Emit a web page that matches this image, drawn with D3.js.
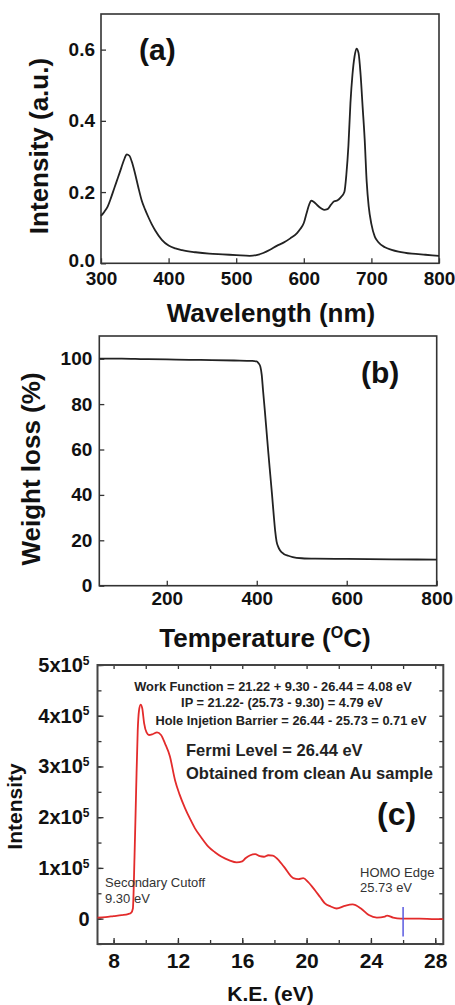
<!DOCTYPE html>
<html>
<head>
<meta charset="utf-8">
<script src="https://cdn.jsdelivr.net/npm/d3@7"></script>
<style>
  body { margin: 0; background: #fff; }
  svg { display: block; font-family: "Liberation Sans", Arial, sans-serif; }
</style>
</head>
<body>
<svg id="chart" width="455" height="1005"></svg>
<script>
// (a) absorption spectrum
const wavelength = [300, 305, 310, 315, 320, 325, 330, 335, 338, 342, 346, 350, 355, 360, 365, 370, 375, 380, 390, 400,
  410, 420, 440, 460, 480, 500, 520, 530, 540, 550, 560, 570, 580, 590, 595, 600, 604, 608, 611, 615, 620, 625, 630,
  635, 640, 645, 650, 655, 660, 663, 666, 669, 672, 675, 678, 681, 684, 687, 690, 693, 696, 700, 705, 710, 720, 730,
  740, 760, 780, 800]
const absorbance = [0.133, 0.145, 0.16, 0.185, 0.213, 0.24, 0.268, 0.295, 0.306, 0.302, 0.283, 0.255, 0.215, 0.178,
  0.152, 0.13, 0.11, 0.093, 0.066, 0.05, 0.042, 0.037, 0.031, 0.027, 0.025, 0.023, 0.021, 0.023, 0.029, 0.038, 0.049,
  0.058, 0.07, 0.085, 0.097, 0.113, 0.14, 0.165, 0.176, 0.172, 0.163, 0.155, 0.15, 0.152, 0.164, 0.174, 0.177, 0.186,
  0.2, 0.25, 0.33, 0.45, 0.53, 0.58, 0.603, 0.59, 0.53, 0.44, 0.35, 0.23, 0.16, 0.11, 0.075, 0.06, 0.045, 0.038,
  0.033, 0.027, 0.024, 0.021]
const aTicksX = [300, 400, 500, 600, 700, 800]
const aTicksY = [0, 0.2, 0.4, 0.6]

// (b) TGA
const temperature = [50, 100, 150, 200, 250, 300, 350, 390, 400, 404, 408, 411, 414, 418, 422, 426, 430, 434, 438, 441,
  444, 448, 452, 460, 470, 480, 500, 530, 600, 700, 800]
const weightLoss = [100, 100, 99.8, 99.7, 99.5, 99.4, 99.2, 99, 98.8, 98, 96.5, 93, 86, 77, 67.5, 58, 49, 40, 30.5,
  24, 19.5, 17, 15.5, 14, 13.2, 12.6, 12.1, 11.9, 11.8, 11.6, 11.5]
const bTicksX = [200, 400, 600, 800]
const bTicksY = [0, 20, 40, 60, 80, 100]

// (c) UPS spectrum, intensity in units of 1e5
const kineticEnergy = [7, 7.5, 8, 8.5, 8.9, 9.1, 9.2, 9.3, 9.4, 9.5, 9.58, 9.68, 9.78, 9.9, 10.05, 10.2, 10.45, 10.7,
  10.95, 11.2, 11.5, 11.82, 12.1, 12.44, 12.75, 13.06, 13.45, 13.89, 14.3, 14.72, 15.2, 15.65, 16.0, 16.2, 16.5, 16.8,
  17.1, 17.35, 17.62, 17.9, 18.14, 18.6, 19.17, 19.5, 19.79, 20.1, 20.52, 20.85, 21.14, 21.5, 21.87, 22.36, 22.86,
  23.38, 23.87, 24.37, 24.87, 25.0, 25.38, 25.86, 27, 28, 28.5]
const upsIntensity = [0.02, 0.03, 0.05, 0.07, 0.09, 0.12, 0.2, 1.2, 2.5, 3.7, 4.1, 4.22, 4.15, 3.85, 3.67, 3.62, 3.64,
  3.67, 3.62, 3.45, 3.2, 2.73, 2.45, 2.18, 1.97, 1.78, 1.6, 1.42, 1.31, 1.22, 1.15, 1.11, 1.13, 1.19, 1.25, 1.27,
  1.23, 1.22, 1.25, 1.24, 1.19, 1.02, 0.8, 0.78, 0.8, 0.72, 0.56, 0.42, 0.3, 0.24, 0.2, 0.25, 0.28, 0.2, 0.07, 0.02,
  0.04, 0.06, 0.02, 0, 0, -0.01, -0.01]
const homoMarker = { x: 26.0, y0: -0.35, y1: 0.23 }
const cTicksX = [8, 12, 16, 20, 24, 28]
const cMinorX = [8, 10, 12, 14, 16, 18, 20, 22, 24, 26, 28]
const cTicksY = [0, 1, 2, 3, 4, 5]
const cMinorY = [-0.5, 0.5, 1.5, 2.5, 3.5, 4.5]

const infoLines = [
  "Work Function = 21.22 + 9.30 - 26.44 = 4.08 eV",
  "IP = 21.22- (25.73 - 9.30) = 4.79 eV",
  "Hole Injetion Barrier = 26.44 - 25.73 =  0.71 eV"
]
const fermiLines = ["Fermi Level = 26.44 eV", "Obtained from clean Au sample"]

const svg = d3.select("#chart")

const styleTicks = (g, size) => {
  g.select(".domain").remove()
  g.selectAll("line").attr("stroke", "#333").attr("stroke-width", 1.3)
  g.selectAll("text")
    .attr("font-family", "Liberation Sans, Arial, sans-serif")
    .attr("font-weight", "bold")
    .attr("font-size", size)
    .attr("fill", "#111")
}

const frame = (x, y, stroke, width) => {
  svg.append("rect")
    .attr("x", x.range()[0]).attr("y", y.range()[1])
    .attr("width", x.range()[1] - x.range()[0])
    .attr("height", y.range()[0] - y.range()[1])
    .attr("fill", "none").attr("stroke", stroke).attr("stroke-width", width)
}

const bold = (x, y, txt, size, anchor = "start") =>
  svg.append("text")
    .attr("x", x).attr("y", y)
    .attr("text-anchor", anchor)
    .attr("font-weight", "bold")
    .attr("font-size", size)
    .attr("fill", "#111")
    .text(txt)

const yTitle = (x, y, txt, size) =>
  bold(0, 0, txt, size, "middle").attr("transform", `translate(${x},${y}) rotate(-90)`)

// ---------- panel (a)
const xa = d3.scaleLinear().domain([300, 800]).range([101, 439])
const ya = d3.scaleLinear().domain([0, 0.7]).range([263.3, 14])

svg.append("g").attr("transform", `translate(0,${ya(0)})`)
  .call(d3.axisBottom(xa).tickValues(aTicksX).tickSize(-5).tickPadding(8))
  .call(g => styleTicks(g, 19))
svg.append("g").attr("transform", `translate(${xa(300)},0)`)
  .call(d3.axisLeft(ya).tickValues(aTicksY).tickFormat(d3.format(".1f")).tickSize(-5).tickPadding(6))
  .call(g => styleTicks(g, 19))
  .call(g => g.selectAll(".tick text").filter(d => d === 0).attr("y", -3))
frame(xa, ya, "#333", 1.6)

svg.append("path")
  .datum(wavelength.map((w, i) => [w, absorbance[i]]))
  .attr("d", d3.line().x(d => xa(d[0])).y(d => ya(d[1])).curve(d3.curveMonotoneX))
  .attr("fill", "none").attr("stroke", "#222").attr("stroke-width", 1.8)

bold(139, 60, "(a)", 30)
bold(271, 322, "Wavelength (nm)", 26, "middle")
yTitle(48, 146, "Intensity (a.u.)", 26)

// ---------- panel (b)
const xb = d3.scaleLinear().domain([50, 800]).range([99.3, 436.7])
const yb = d3.scaleLinear().domain([0, 110]).range([585.7, 336])

svg.append("g").attr("transform", `translate(0,${yb(0)})`)
  .call(d3.axisBottom(xb).tickValues(bTicksX).tickSize(-5).tickPadding(6))
  .call(g => styleTicks(g, 19))
svg.append("g").attr("transform", `translate(${xb(50)},0)`)
  .call(d3.axisLeft(yb).tickValues(bTicksY).tickSize(-5).tickPadding(7))
  .call(g => styleTicks(g, 19))
frame(xb, yb, "#333", 1.6)

svg.append("path")
  .datum(temperature.map((t, i) => [t, weightLoss[i]]))
  .attr("d", d3.line().x(d => xb(d[0])).y(d => yb(d[1])).curve(d3.curveMonotoneX))
  .attr("fill", "none").attr("stroke", "#222").attr("stroke-width", 1.8)

bold(361, 383, "(b)", 30)
const tTitle = bold(265, 647, "Temperature (", 26, "middle")
tTitle.append("tspan").attr("font-size", 16).attr("dy", -9).text("O")
tTitle.append("tspan").attr("dy", 9).text("C)")
yTitle(40, 469, "Weight loss (%)", 26)

// ---------- panel (c)
const xc = d3.scaleLinear().domain([7, 28.5]).range([97.5, 443.3])
const yc = d3.scaleLinear().domain([-0.5, 5]).range([944, 665])

// minor ticks on all four sides
svg.append("g").attr("transform", `translate(0,${yc.range()[0]})`)
  .call(d3.axisBottom(xc).tickValues(cMinorX).tickSize(-4).tickFormat(""))
  .call(g => styleTicks(g, 0))
svg.append("g").attr("transform", `translate(0,${yc.range()[1]})`)
  .call(d3.axisTop(xc).tickValues(cMinorX).tickSize(-4).tickFormat(""))
  .call(g => styleTicks(g, 0))
svg.append("g").attr("transform", `translate(${xc.range()[0]},0)`)
  .call(d3.axisLeft(yc).tickValues(cMinorY.concat(cTicksY)).tickSize(-4).tickFormat(""))
  .call(g => styleTicks(g, 0))
svg.append("g").attr("transform", `translate(${xc.range()[1]},0)`)
  .call(d3.axisRight(yc).tickValues(cMinorY.concat(cTicksY)).tickSize(-4).tickFormat(""))
  .call(g => styleTicks(g, 0))

svg.append("g").attr("transform", `translate(0,${yc.range()[0]})`)
  .call(d3.axisBottom(xc).tickValues(cTicksX).tickSize(-6).tickPadding(9))
  .call(g => styleTicks(g, 21))
svg.append("g").attr("transform", `translate(${xc.range()[0]},0)`)
  .call(d3.axisLeft(yc).tickValues(cTicksY).tickSize(-6).tickPadding(8)
    .tickFormat(d => d === 0 ? "0" : d + "x10"))
  .call(g => styleTicks(g, 20))
  .call(g => g.selectAll(".tick text")
    .filter(d => d !== 0)
    .append("tspan").attr("font-size", 12).attr("dy", "-0.6em").text("5"))
frame(xc, yc, "#444", 2)

svg.append("path")
  .datum(kineticEnergy.map((e, i) => [e, upsIntensity[i]]))
  .attr("d", d3.line().x(d => xc(d[0])).y(d => yc(d[1])).curve(d3.curveMonotoneX))
  .attr("fill", "none").attr("stroke", "#e32b2b").attr("stroke-width", 1.8)

svg.append("line")
  .attr("x1", xc(homoMarker.x)).attr("x2", xc(homoMarker.x))
  .attr("y1", yc(homoMarker.y0)).attr("y2", yc(homoMarker.y1))
  .attr("stroke", "#5a5ae0").attr("stroke-width", 1.5)

const infoX = [273, 282, 291]
const infoY = [691, 707, 725]
infoLines.forEach((t, i) => bold(infoX[i], infoY[i], t, 12.8, "middle").attr("fill", "#222"))
fermiLines.forEach((t, i) => bold(186, 756 + i * 23, t, 16.5).attr("fill", "#222"))

bold(377, 825, "(c)", 32)

const note = (x, y, txt) =>
  svg.append("text").attr("x", x).attr("y", y)
    .attr("font-size", 13).attr("fill", "#333").text(txt)
note(105, 887, "Secondary Cutoff")
note(105, 903, "9.30 eV")
note(360, 877, "HOMO Edge")
note(360, 892, "25.73 eV")

bold(270.5, 1001, "K.E. (eV)", 21, "middle")
yTitle(22, 806.5, "Intensity", 21)
</script>
</body>
</html>
